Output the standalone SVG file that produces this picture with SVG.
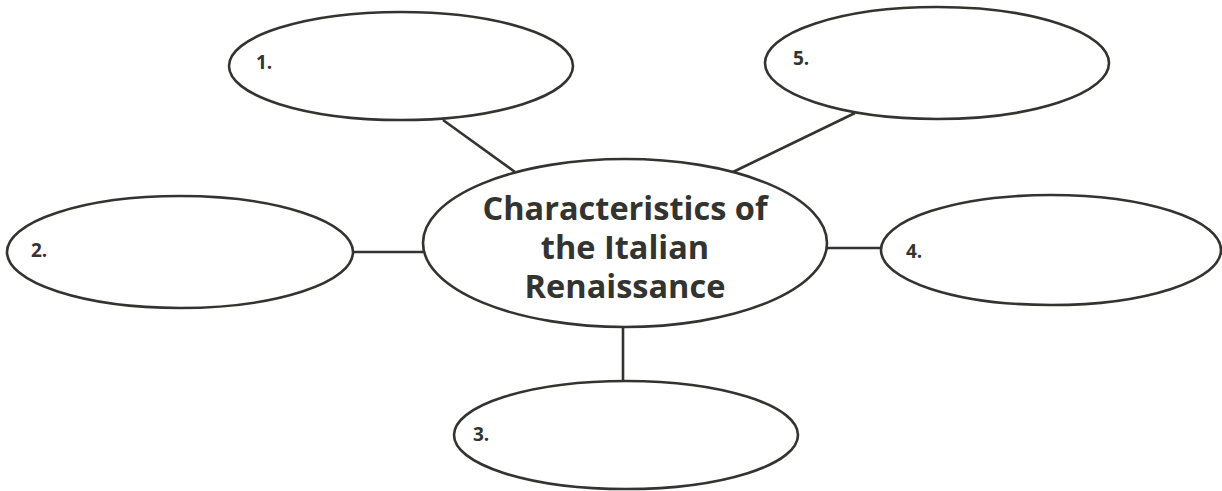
<svg xmlns="http://www.w3.org/2000/svg" width="1222" height="491" viewBox="0 0 1222 491">
<style>
.node ellipse{fill:#fff;stroke:#333330;stroke-width:2.6}
.conn line{stroke:#333330;stroke-width:2.6}
.lbl{font-family:"Open Sans","Noto Sans",sans-serif;font-weight:bold;font-size:19px;fill:#333330}
.title{font-family:"Open Sans","Noto Sans",sans-serif;font-weight:bold;font-size:32.5px;fill:#333330;text-anchor:middle}
</style>
<rect width="1222" height="491" fill="#fff"/>
<g id="connectors" class="conn">
<line x1="443" y1="120" x2="515" y2="172"/>
<line x1="855" y1="113" x2="733" y2="172"/>
<line x1="353" y1="252" x2="423" y2="252"/>
<line x1="826" y1="248" x2="881" y2="248"/>
<line x1="623" y1="327" x2="623" y2="380"/>
</g>
<g id="node-center" class="node">
<ellipse cx="625" cy="243" rx="202" ry="84"/>
<text class="title" x="625" y="220">Characteristics of</text>
<text class="title" x="625" y="259">the Italian</text>
<text class="title" x="625" y="298">Renaissance</text>
</g>
<g id="node-1" class="node">
<ellipse cx="401" cy="66" rx="172" ry="54"/>
<text class="lbl" x="256" y="69">1.</text>
</g>
<g id="node-5" class="node">
<ellipse cx="937" cy="63" rx="172" ry="56"/>
<text class="lbl" x="793" y="65">5.</text>
</g>
<g id="node-2" class="node">
<ellipse cx="180" cy="252" rx="173" ry="56"/>
<text class="lbl" x="31" y="257">2.</text>
</g>
<g id="node-4" class="node">
<ellipse cx="1051" cy="250" rx="170" ry="55"/>
<text class="lbl" x="906" y="258">4.</text>
</g>
<g id="node-3" class="node">
<ellipse cx="626" cy="435" rx="172" ry="54"/>
<text class="lbl" x="473" y="441">3.</text>
</g>
</svg>
